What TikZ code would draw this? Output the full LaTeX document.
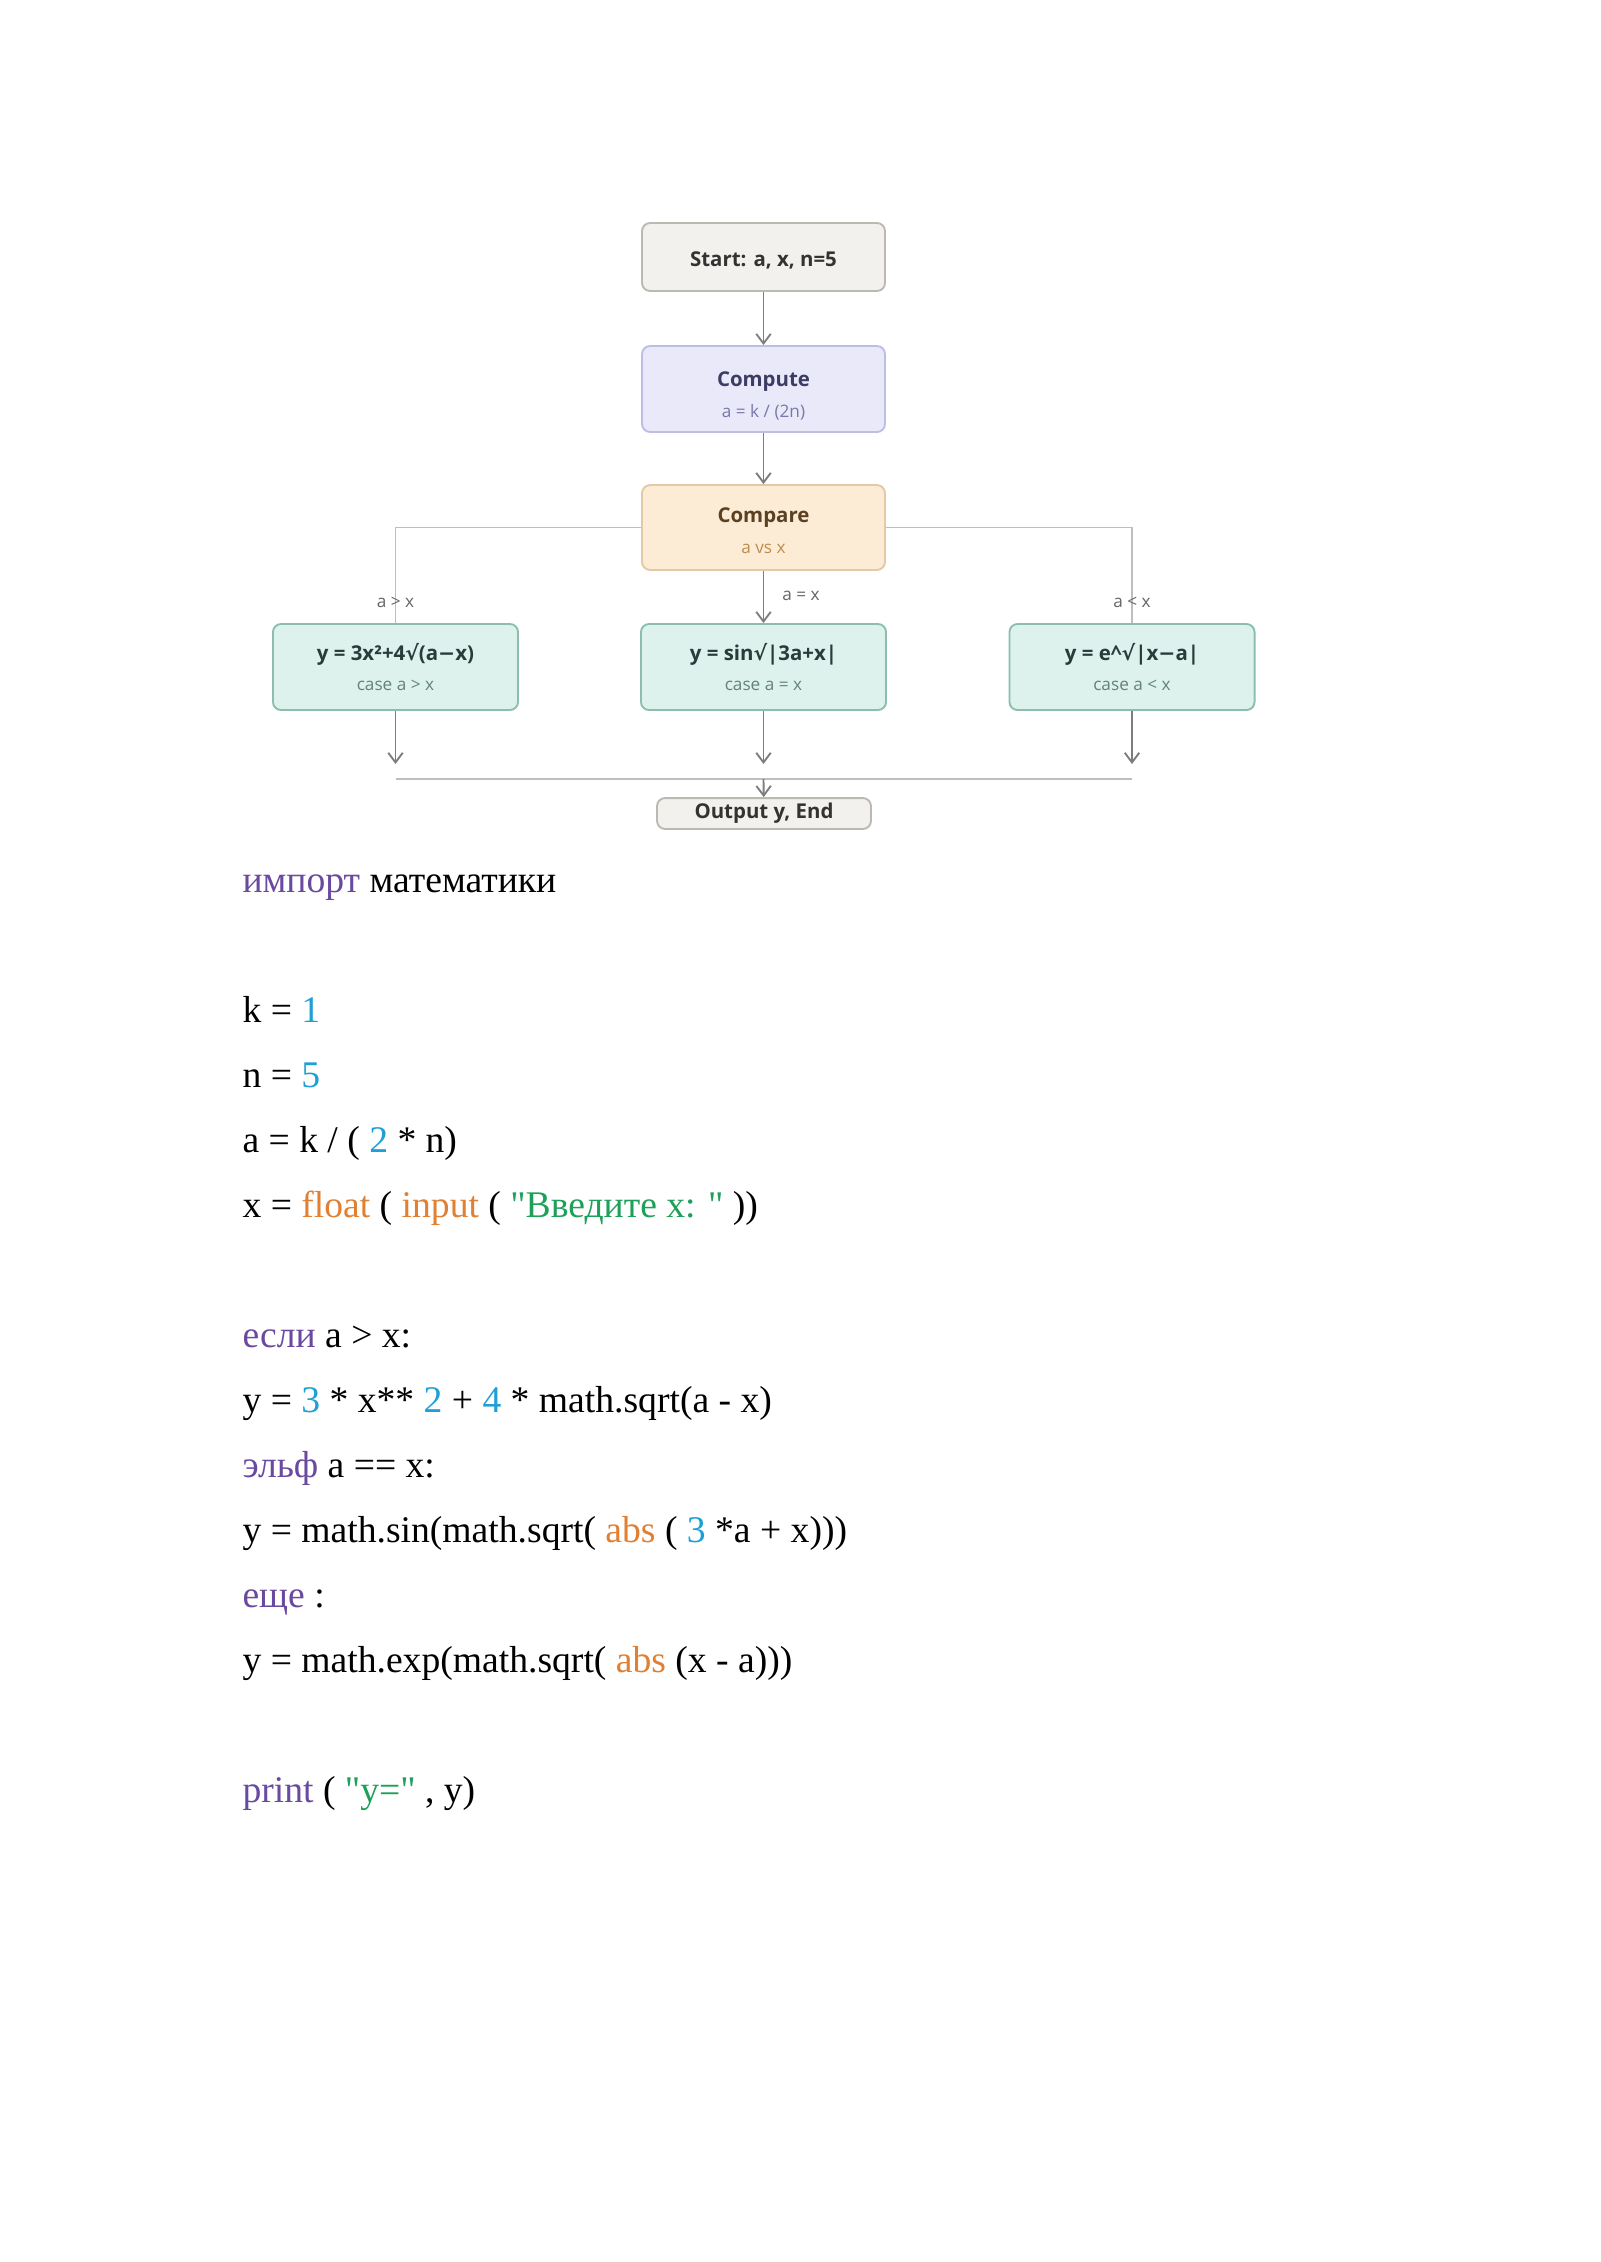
\documentclass[tikz,border=0pt]{standalone}
\usepackage{fontspec}
\setmainfont{Liberation Serif}[Ligatures=TeXOff]
\newfontfamily\fcf{Open Sans}
\newfontfamily\symf{DejaVu Sans}
\usetikzlibrary{arrows.meta}
\definecolor{kw}{RGB}{106,74,160}
\definecolor{num}{RGB}{30,160,215}
\definecolor{fnc}{RGB}{225,128,50}
\definecolor{strc}{RGB}{30,160,90}
\definecolor{stfill}{RGB}{243,241,237}
\definecolor{stdraw}{RGB}{188,184,178}
\definecolor{cpfill}{RGB}{233,233,250}
\definecolor{cpdraw}{RGB}{190,190,228}
\definecolor{cptit}{RGB}{60,60,100}
\definecolor{cpsub}{RGB}{120,120,170}
\definecolor{cmfill}{RGB}{252,236,214}
\definecolor{cmdraw}{RGB}{225,202,165}
\definecolor{cmtit}{RGB}{90,65,35}
\definecolor{cmsub}{RGB}{190,140,80}
\definecolor{csfill}{RGB}{221,242,236}
\definecolor{csdraw}{RGB}{140,190,175}
\definecolor{cstit}{RGB}{40,60,60}
\definecolor{cssub}{RGB}{100,130,125}
\definecolor{arrc}{RGB}{125,125,125}
\definecolor{brc}{RGB}{190,190,190}
\newcommand{\tf}{\fcf\bfseries\fontsize{7.6pt}{9pt}\selectfont}
\newcommand{\sfn}{\fcf\fontsize{6.4pt}{7.5pt}\selectfont}
\newcommand{\sq}{{\symf √}}
\newcommand{\mn}{{\symf −}}
\begin{document}
\begin{tikzpicture}[x=0.3721pt,y=-0.3721pt,
  fbox/.style={rounded corners=3pt, line width=0.7pt, inner sep=0pt, align=center, minimum width=90.4pt},
  startbox/.style={fbox, fill=stfill, draw=stdraw, minimum height=25.3pt, text=black!80},
  compbox/.style={fbox, fill=cpfill, draw=cpdraw, minimum height=32pt},
  cmpbox/.style={fbox, fill=cmfill, draw=cmdraw, minimum height=31.6pt},
  casebox/.style={fbox, fill=csfill, draw=csdraw, minimum height=32pt, minimum width=91.2pt},
  outbox/.style={fbox, fill=stfill, draw=stdraw, minimum height=11.5pt, minimum width=79.6pt, text=black!80},
  arr/.style={draw=arrc, line width=0.7pt, -{Straight Barb[length=3.6pt,width=5.4pt]}},
  brl/.style={draw=brc, line width=0.7pt},
  lbl/.style={font=\sfn, text=black!60, inner sep=1pt},
  code/.style={anchor=base west, inner sep=0pt, font=\fontsize{14pt}{16pt}\selectfont}
]
\useasboundingbox (0,0) rectangle (1600,2262);
\fill[white] (0,0) rectangle (1600,2262);

% flowchart nodes
\node[startbox] (st) at (763.5,257) {\tf\rule{0pt}{8pt}Start: a, x, n=5};
\node[compbox] (cp) at (763.5,389) {{\tf\color{cptit}\rule{0pt}{10.5pt}Compute}\\[-0.5pt]{\sfn\color{cpsub}a = k / (2n)}};
\node[cmpbox] (cm) at (763.5,527.5) {{\tf\color{cmtit}\rule{0pt}{8pt}Compare}\\[-0.5pt]{\sfn\color{cmsub}a vs x}};
\node[casebox] (L) at (395.5,667) {{\tf\color{cstit}y = 3x²+4\sq(a\mn x)}\\[-1pt]{\sfn\color{cssub}case a > x}};
\node[casebox] (M) at (763.5,667) {{\tf\color{cstit}y = sin\sq|3a+x|}\\[-1pt]{\sfn\color{cssub}case a = x}};
\node[casebox] (R) at (1132,667) {{\tf\color{cstit}y = e\^{}\sq|x\mn a|}\\[-1pt]{\sfn\color{cssub}case a < x}};
\node[outbox] (out) at (764,813.5) {\tf Output y, End};

% connectors
\draw[arr] (st) -- (cp);
\draw[arr] (cp) -- (cm);
\draw[brl] (cm.west) -| (L.north);
\draw[brl] (cm.east) -| (R.north);
\draw[arr] (cm) -- (M);
\node[lbl] (la) at (395.5,602) {a > x};
\node[lbl] (lc) at (1132,602) {a < x};
\node[lbl] (lb) at (801,596) {a = x};

\coordinate (Le) at (395.5,764);
\coordinate (Me) at (763.5,764);
\coordinate (Re) at (1132,764);
\draw[arr] (L) -- (Le);
\draw[arr] (M) -- (Me);
\draw[arr] (R) -- (Re);
\coordinate (ml) at (395.5,779);
\coordinate (mr) at (1132,779);
\coordinate (mc) at (763.5,779);
\draw[brl] (ml) -- (mr);
\draw[arr] (mc) -- (out);

% code
\node[code] (c1) at (242,892) {\textcolor{kw}{импорт} математики};
\node[code] (c2) at (242,1022) {k = \textcolor{num}{1}};
\node[code] (c3) at (242,1087) {n = \textcolor{num}{5}};
\node[code] (c4) at (242,1152) {a = k / ( \textcolor{num}{2} * n)};
\node[code] (c5) at (242,1217) {x = \textcolor{fnc}{float} ( \textcolor{fnc}{input} ( \textcolor{strc}{"Введите x: "} ))};
\node[code] (c6) at (242,1347) {\textcolor{kw}{если} a > x:};
\node[code] (c7) at (242,1412) {y = \textcolor{num}{3} * x** \textcolor{num}{2} + \textcolor{num}{4} * math.sqrt(a - x)};
\node[code] (c8) at (242,1477) {\textcolor{kw}{эльф} a == x:};
\node[code] (c9) at (242,1542) {y = math.sin(math.sqrt( \textcolor{fnc}{abs} ( \textcolor{num}{3} *a + x)))};
\node[code] (c10) at (242,1607) {\textcolor{kw}{еще} :};
\node[code] (c11) at (242,1672) {y = math.exp(math.sqrt( \textcolor{fnc}{abs} (x - a)))};
\node[code] (c12) at (242,1802) {\textcolor{kw}{print} ( \textcolor{strc}{"y="} , y)};
\end{tikzpicture}
\end{document}
